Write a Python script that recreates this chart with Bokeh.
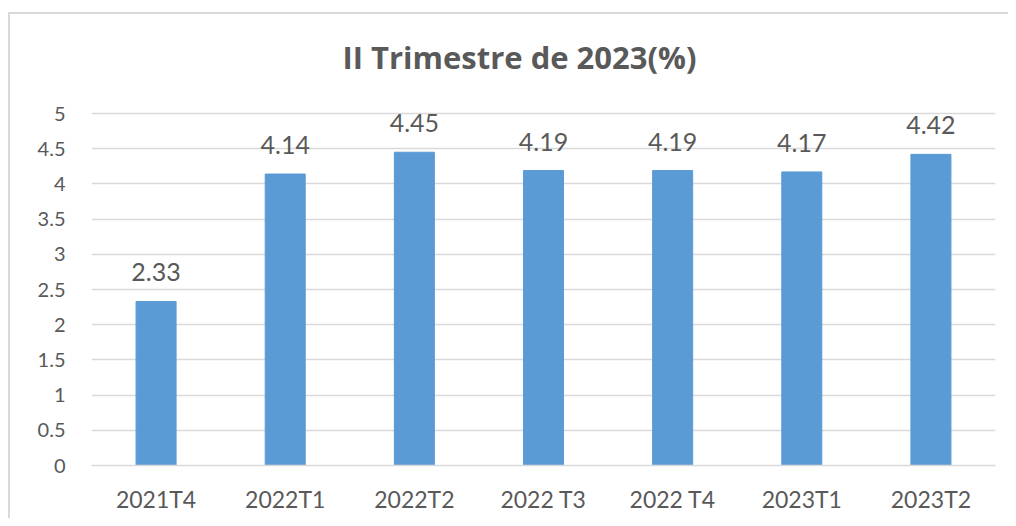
from bokeh.plotting import figure
from bokeh.models import ColumnDataSource, LabelSet, Label, Range1d, FixedTicker
from bokeh.core.properties import value
from bokeh.embed import file_html
from bokeh.resources import INLINE

categories = ["2021T4", "2022T1", "2022T2", "2022 T3", "2022 T4", "2023T1", "2023T2"]
values = [2.33, 4.14, 4.45, 4.19, 4.19, 4.17, 4.42]
labels = ["2.33", "4.14", "4.45", "4.19", "4.19", "4.17", "4.42"]
y_ticks = [0, 0.5, 1, 1.5, 2, 2.5, 3, 3.5, 4, 4.5, 5]
title_text = "II Trimestre de 2023(%)"

FONT = "Lato"
TXT = "#595959"
GRID = "#d9d9d9"
BAR = "#5B9BD5"

frame_h = 451
y_end = 5 * frame_h / 352.0

src = ColumnDataSource(dict(cat=categories, val=values, lab=labels))

p = figure(x_range=categories, y_range=Range1d(0, y_end),
           frame_width=904, frame_height=frame_h,
           min_border_left=81, min_border_right=13, min_border_top=0, min_border_bottom=53,
           output_backend="svg", toolbar_location=None, tools="")
p.styles = {"border-left": "2px solid #d9d9d9", "border-top": "2px solid #d9d9d9",
            "margin-top": "12px", "margin-left": "8px"}
p.outline_line_color = None

p.vbar(x="cat", top="val", width=0.31, source=src, fill_color=BAR, line_color=BAR)

p.yaxis.ticker = FixedTicker(ticks=y_ticks)
p.yaxis.major_label_overrides = {0: "0", 1: "1", 2: "2", 3: "3", 4: "4", 5: "5"}
p.yaxis.axis_line_color = None
p.yaxis.major_tick_line_color = None
p.yaxis.minor_tick_line_color = None
p.yaxis.major_label_standoff = 20
p.yaxis.major_label_text_font = FONT
p.yaxis.major_label_text_font_size = "20px"
p.yaxis.major_label_text_color = TXT

p.xaxis.axis_line_color = GRID
p.xaxis.axis_line_width = 1.5
p.xaxis.major_tick_line_color = None
p.xaxis.minor_tick_line_color = None
p.xaxis.major_label_standoff = 13
p.xaxis.major_label_text_font = FONT
p.xaxis.major_label_text_font_size = "23px"
p.xaxis.major_label_text_color = TXT

p.xgrid.grid_line_color = None
p.ygrid.grid_line_color = GRID
p.ygrid.grid_line_width = 1.5

lbl = LabelSet(x="cat", y="val", text="lab", source=src, y_offset=20,
               text_align="center", text_baseline="alphabetic",
               text_font=value(FONT), text_font_size=value("25px"), text_color=TXT)
p.add_layout(lbl)

title = Label(x=3.314, y=5.80, text=title_text, text_align="center", text_baseline="alphabetic",
              text_font="Open Sans", text_font_size="31px", text_font_style="bold", text_color=TXT)
p.add_layout(title)

open("out.html", "w").write(file_html(p, INLINE))
